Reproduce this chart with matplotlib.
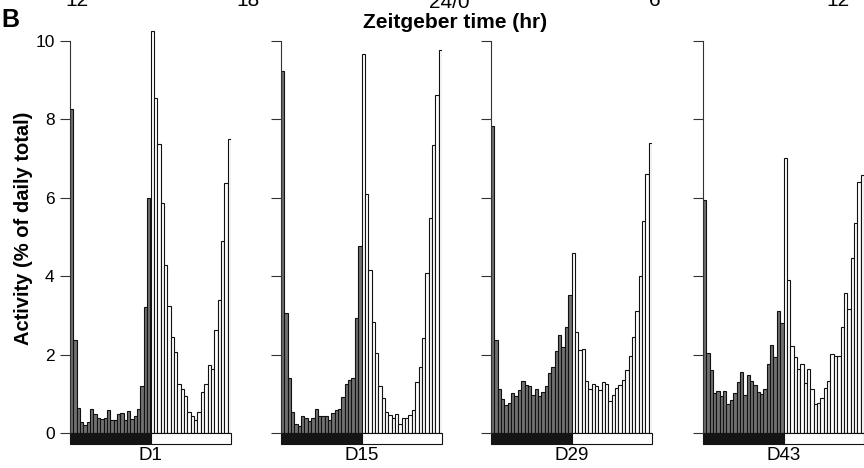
import matplotlib
matplotlib.use('Agg')
from matplotlib import pyplot as plt

plt.rcParams['font.family'] = ['Liberation Sans', 'DejaVu Sans']

# activity per half-hour bin, % of daily total (24 dark bins then 24 light bins)
day_labels = ['D1', 'D15', 'D29', 'D43']

d1_dark = [8.26, 2.38, 0.65, 0.28, 0.21, 0.28, 0.60, 0.48, 0.39, 0.35, 0.38, 0.58,
           0.34, 0.32, 0.48, 0.51, 0.32, 0.56, 0.35, 0.44, 0.60, 1.19, 3.20, 5.98]
d1_light = [10.24, 8.55, 7.37, 5.87, 4.28, 3.25, 2.45, 2.07, 1.26, 1.11, 0.94, 0.54,
            0.43, 0.32, 0.54, 1.05, 1.26, 1.73, 1.62, 2.62, 3.39, 4.90, 6.37, 7.49]

d15_dark = [9.24, 3.07, 1.41, 0.54, 0.22, 0.17, 0.43, 0.39, 0.30, 0.37, 0.60, 0.43,
            0.43, 0.43, 0.32, 0.52, 0.58, 0.60, 0.92, 1.26, 1.34, 1.39, 2.92, 4.77]
d15_light = [9.67, 6.10, 4.15, 2.82, 2.05, 1.20, 0.89, 0.53, 0.47, 0.37, 0.49, 0.24,
             0.38, 0.39, 0.47, 0.58, 1.30, 1.69, 2.41, 4.09, 5.47, 7.34, 8.62, 9.77]

d29_dark = [7.83, 2.37, 1.11, 0.86, 0.71, 0.77, 1.03, 0.94, 1.09, 1.33, 1.23, 1.20,
            0.96, 1.11, 0.94, 1.05, 1.20, 1.54, 1.67, 2.09, 2.51, 2.20, 2.69, 3.51]
d29_light = [4.58, 2.58, 2.11, 2.15, 1.32, 1.13, 1.24, 1.20, 1.09, 1.29, 1.25, 0.81,
             0.98, 1.16, 1.23, 1.36, 1.60, 1.96, 2.45, 3.11, 4.00, 5.40, 6.60, 7.39]

d43_dark = [5.94, 2.04, 1.60, 1.02, 1.07, 0.94, 1.07, 0.75, 0.85, 1.02, 1.30, 1.56,
            0.96, 1.47, 1.33, 1.23, 1.05, 1.00, 1.13, 1.75, 2.24, 1.94, 3.11, 2.81]
d43_light = [7.00, 3.91, 2.21, 1.94, 1.62, 1.77, 1.28, 1.64, 1.11, 0.75, 0.77, 0.90,
             1.15, 1.32, 2.01, 1.96, 1.97, 2.71, 3.56, 3.17, 4.45, 5.36, 6.41, 6.58]

dark_data = [d1_dark, d15_dark, d29_dark, d43_dark]
light_data = [d1_light, d15_light, d29_light, d43_light]

y_ticks = [0, 2, 4, 6, 8, 10]
top_labels = ['12', '18', '24/0', '6', '12']

W, H = 864, 468
panel_x = [70, 281, 491, 703]
panel_w = 161
ld_h = 0.28

fig = plt.figure(figsize=(W / 100, H / 100), dpi=100)

for i, label in enumerate(day_labels):
    ax = fig.add_axes([panel_x[i] / W, 24 / H, panel_w / W, 419 / H])
    n = len(dark_data[i])
    xd = [k + 0.5 for k in range(n)]
    xl = [n + k + 0.5 for k in range(len(light_data[i]))]
    ax.bar(xd, dark_data[i], width=1, color='#707070', edgecolor='#111111', linewidth=0.8)
    ax.bar(xl, light_data[i], width=1, color='white', edgecolor='#111111', linewidth=0.8)

    # light/dark bar under the histogram
    ax.bar([n / 2], [ld_h], width=n, bottom=-ld_h, color='#141414', edgecolor='#141414',
           linewidth=0.8, clip_on=False)
    ax.bar([n + len(light_data[i]) / 2], [ld_h], width=len(light_data[i]), bottom=-ld_h,
           color='white', edgecolor='#111111', linewidth=0.8, clip_on=False)

    ax.set_xlim(0, n + len(light_data[i]))
    ax.set_ylim(-ld_h, 10.4)
    for s in ['top', 'right', 'bottom']:
        ax.spines[s].set_visible(False)
    ax.spines['left'].set_bounds(0, 10)
    ax.spines['left'].set_linewidth(0.8)
    ax.spines['left'].set_color('#333333')
    ax.set_xticks([])
    ax.set_yticks(y_ticks)
    ax.tick_params(axis='y', direction='out', length=7, width=0.8, color='#333333',
                   labelsize=12.5, pad=4, labelleft=(i == 0))
    ax.patch.set_alpha(0)

    fig.text((panel_x[i] + panel_w / 2) / W, 1 - 456 / H, label,
             ha='center', va='center', fontsize=13.5)

fig.text(24 / W, 1 - 228 / H, 'Activity (% of daily total)', rotation=90,
         ha='center', va='center', fontsize=14.5, fontweight='bold')
fig.text(455 / W, 1 - 22 / H, 'Zeitgeber time (hr)', ha='center', va='center',
         fontsize=15, fontweight='bold')
fig.text(1 / W, 1 - 20 / H, 'B', ha='left', va='center', fontsize=18, fontweight='bold')

# clipped tick labels from the panel above (only their lower part shows)
top_x = [77, 248, 449, 655, 838]
top_base = [6, 6, 8, 6, 6]
for t, x, b in zip(top_labels, top_x, top_base):
    fig.text(x / W, 1 - b / H, t, ha='center', va='baseline', fontsize=15)

fig.savefig('out.png', dpi=100)
plt.close()
